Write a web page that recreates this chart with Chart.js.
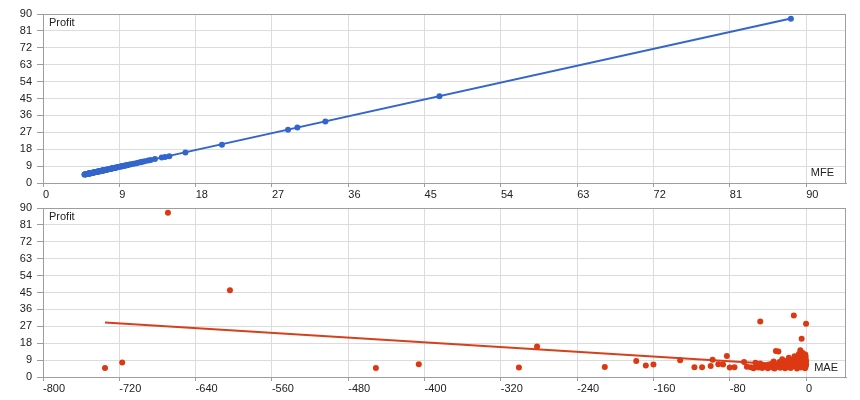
<!DOCTYPE html>
<html>
<head>
<meta charset="utf-8">
<script src="https://cdn.jsdelivr.net/npm/chart.js@4.4.1/dist/chart.umd.min.js"></script>
<style>
    body { margin: 0; background: #fff; }
    .box { position: relative; width: 860px; height: 200px; }
</style>
</head>
<body>
<div class="box"><canvas id="chart-mfe"></canvas></div>
<div class="box"><canvas id="chart-mae"></canvas></div>
<script>
// one entry per trade: max favourable excursion, max adverse excursion, profit
const mfe = [
    5.6, 5.0, 6.4, 5.4, 7.6, 5.2, 5.9, 6.8, 5.1, 6.2,
    7.5, 5.5, 4.9, 7.0, 14.4, 14.0, 5.8, 8.5, 5.3, 6.6,
    9.9, 6.0, 7.9, 5.0, 7.3, 9.0, 5.6, 10.7, 6.8, 5.2,
    8.2, 9.5, 6.1, 11.5, 7.1, 8.7, 4.9, 11.0, 6.3, 12.7,
    7.7, 10.2, 14.9, 5.4, 12.0, 21.1, 9.3, 6.5, 13.2, 8.0,
    10.4, 5.7, 11.7, 8.5, 6.9, 10.0, 5.1, 12.4, 7.4, 11.2,
    6.2, 28.9, 8.9, 7.2, 9.6, 5.9, 8.3, 6.7, 9.8, 6.0,
    7.5, 6.4, 33.3, 9.2, 7.3, 6.3, 8.1, 6.5, 8.6, 7.1,
    6.8, 30.0, 8.0,
    5.2, 8.1, 88.2, 46.75, 5.2, 7.2, 5.4, 16.8, 5.7, 8.9,
    6.5, 7.0, 9.3, 5.6, 5.6, 6.3, 9.6, 7.2, 7.0, 11.6,
    5.4, 5.6, 8.4, 5.8
];
const mae = [
    -58, -55, -52, -50, -48, -46, -44, -42, -40, -38,
    -36, -35, -33, -32, -31.6, -29, -30, -28, -27, -26,
    -25, -24, -23, -22, -21, -20, -19, -18, -17, -16,
    -15, -14, -13, -12, -11, -10, -9.5, -9, -8, -7.5,
    -7, -6.5, -6, -5.5, -5, -4.6, -4.2, -4, -3.5, -3,
    -2.8, -2.5, -2, -1.8, -1.5, -1.2, -1, -0.8, -0.6, -0.4,
    -0.2, 0, 0, 0, -0.3, -1.4, -2.2, -3.2, -4.8, -6.2,
    -8.5, -10.5, -12.8, -13.5, -16.5, -20.5, -24.5, -29.5, -34, -39,
    -45, -48, -53,
    -735, -717, -669, -604, -451, -406, -301, -282, -211, -178,
    -168, -160, -132, -117, -109, -100, -98, -92, -87, -83,
    -80, -75, -65, -62
];
const profit = [
    5.2, 4.6, 6.0, 5.0, 7.2, 4.8, 5.5, 6.3, 4.7, 5.8,
    7.0, 5.1, 4.5, 6.6, 13.9, 13.6, 5.4, 8.0, 4.9, 6.2,
    9.4, 5.6, 7.5, 4.6, 6.9, 8.6, 5.2, 10.2, 6.4, 4.8,
    7.8, 9.0, 5.7, 11.0, 6.7, 8.3, 4.5, 10.5, 5.9, 12.2,
    7.3, 9.8, 14.2, 5.0, 11.6, 20.4, 8.9, 6.1, 12.8, 7.6,
    10.0, 5.3, 11.3, 8.1, 6.5, 9.6, 4.7, 12.0, 7.0, 10.8,
    5.8, 28.4, 8.5, 6.8, 9.2, 5.5, 7.9, 6.3, 9.4, 5.6,
    7.1, 6.0, 32.8, 8.8, 6.9, 5.9, 7.7, 6.1, 8.2, 6.7,
    6.4, 29.6, 7.6,
    4.8, 7.7, 87.5, 46.2, 4.8, 6.8, 5.0, 16.2, 5.3, 8.5,
    6.1, 6.6, 8.9, 5.2, 5.2, 5.9, 9.2, 6.8, 6.6, 11.2,
    5.0, 5.2, 8.0, 5.4
];

// trend line end points
const mfeTrendX = [5.0, 88.2];
const mfeTrendY = [4.6, 87.6];
const maeTrendX = [-735, 0];
const maeTrendY = [29.0, 5.9];

const profitTicks = { min: 0, max: 90, step: 9 };
const mfeTicks = { min: 0, max: 94.7, step: 9, last: 90 };
const maeTicks = { min: -800, max: 41.9, step: 80, last: 0 };

const blue = "#3366cc";
const red = "#dc3912";
const tickFont = { family: "Liberation Sans, Arial, sans-serif", size: 11 };

function toPoints(xs, ys) {
    return xs.map(function (x, i) {
        return { x: x, y: ys[i] };
    });
}

function framePlugin(xTitle, xTitleRight, xTitleUp) {
    return {
        id: "frame",
        afterDraw: function (chart) {
            var a = chart.chartArea;
            var ctx = chart.ctx;
            ctx.save();
            ctx.strokeStyle = "#9e9e9e";
            ctx.lineWidth = 1;
            ctx.strokeRect(Math.round(a.left) + 0.5, Math.round(a.top) + 0.5,
                Math.round(a.right - a.left) - 1, Math.round(a.bottom - a.top));
            ctx.fillStyle = "#222";
            ctx.font = "11px Liberation Sans, Arial, sans-serif";
            ctx.textBaseline = "middle";
            ctx.textAlign = "left";
            ctx.fillText("Profit", a.left + 6, a.top + 9);
            ctx.textAlign = "right";
            ctx.fillText(xTitle, a.right - xTitleRight, a.bottom - xTitleUp);
            ctx.restore();
        },
    };
}

function makeOptions(xt, padTop, xHeight) {
    return {
        responsive: true,
        maintainAspectRatio: false,
        animation: false,
        layout: { padding: { top: padTop, right: 14, left: 0, bottom: 0 } },
        plugins: {
            legend: { display: false },
            tooltip: { enabled: false },
        },
        scales: {
            x: {
                type: "linear",
                min: xt.min,
                max: xt.max,
                afterBuildTicks: function (scale) {
                    scale.ticks = scale.ticks.filter(function (t) {
                        return t.value <= xt.last;
                    });
                },
                afterFit: function (scale) {
                    scale.height = xHeight;
                    scale.paddingLeft = 0;
                    scale.paddingRight = 0;
                },
                ticks: {
                    stepSize: xt.step,
                    includeBounds: false,
                    align: "start",
                    maxRotation: 0,
                    autoSkip: false,
                    padding: 1,
                    color: "#222",
                    font: tickFont,
                },
                grid: { color: "#dcdcdc", tickColor: "#9e9e9e", tickLength: 4 },
                border: { color: "#9e9e9e" },
            },
            y: {
                type: "linear",
                min: profitTicks.min,
                max: profitTicks.max,
                afterFit: function (scale) {
                    scale.width = 43;
                    scale.paddingTop = 0;
                    scale.paddingBottom = 0;
                },
                ticks: {
                    stepSize: profitTicks.step,
                    padding: 5,
                    color: "#222",
                    font: tickFont,
                },
                grid: { color: "#dcdcdc", tickColor: "#9e9e9e", tickLength: 6 },
                border: { color: "#9e9e9e" },
            },
        },
    };
}

new Chart(document.getElementById("chart-mfe").getContext("2d"), {
    type: "scatter",
    data: {
        datasets: [
            {
                data: toPoints(mfe, profit),
                backgroundColor: blue,
                borderColor: blue,
                pointRadius: 3,
                pointBorderWidth: 0,
            },
            {
                type: "line",
                data: toPoints(mfeTrendX, mfeTrendY),
                borderColor: blue,
                borderWidth: 2,
                pointRadius: 0,
                showLine: true,
            },
        ],
    },
    options: makeOptions(mfeTicks, 14, 17),
    plugins: [framePlugin("MFE", 12, 10)],
});

new Chart(document.getElementById("chart-mae").getContext("2d"), {
    type: "scatter",
    data: {
        datasets: [
            {
                data: toPoints(mae, profit),
                backgroundColor: red,
                borderColor: red,
                pointRadius: 3,
                pointBorderWidth: 0,
            },
            {
                type: "line",
                data: toPoints(maeTrendX, maeTrendY),
                borderColor: "#d6401c",
                borderWidth: 2,
                pointRadius: 0,
                showLine: true,
            },
        ],
    },
    options: makeOptions(maeTicks, 8, 23),
    plugins: [framePlugin("MAE", 8, 9)],
});
</script>
</body>
</html>
